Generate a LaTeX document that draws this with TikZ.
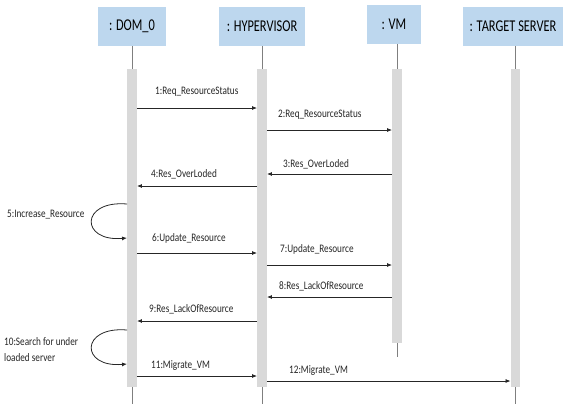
\documentclass[tikz,border=0pt]{standalone}
\usepackage{fontspec}
\setmainfont{Carlito}
\usetikzlibrary{arrows.meta}
\definecolor{hdrblue}{HTML}{BDD7EE}
\definecolor{bargray}{HTML}{D9D9D9}
\definecolor{lifegray}{HTML}{7F7F7F}
\definecolor{msgcol}{HTML}{262626}
\newcommand\hdrtxt[1]{\scalebox{0.75}[1]{\fontsize{16.5}{19}\selectfont #1}}
\newcommand\msgtxt[1]{\scalebox{0.8}[1]{\fontsize{11.5}{14}\selectfont #1}}
\begin{document}
\begin{tikzpicture}[x=1pt,y=-1pt,
  hdrbox/.style={fill=hdrblue,draw=none,inner sep=0pt,minimum height=39pt},
  barbox/.style={fill=bargray,draw=none,inner sep=0pt,minimum width=9.5pt},
  lifeline/.style={draw=lifegray,line width=0.8pt},
  msg/.style={draw=msgcol,line width=0.8pt,-{Latex[length=5pt,width=4pt]}},
  lbl/.style={inner sep=0pt,anchor=base west,text=msgcol}]
\useasboundingbox (0,0) rectangle (564,404);
% headers
\node[hdrbox,minimum width=68pt] (dom) at (132,26.5) {\hdrtxt{: DOM\_0}};
\node[hdrbox,minimum width=86pt] (hyp) at (262,26.5) {\hdrtxt{: HYPERVISOR}};
\node[hdrbox,minimum width=54pt] (vm) at (394,24.5) {\hdrtxt{: VM}};
\node[hdrbox,minimum width=100pt] (tgt) at (513,26.5) {\hdrtxt{: TARGET SERVER}};
% end points of lifelines
\coordinate (domend) at (132,404);
\coordinate (hypend) at (262,404);
\coordinate (vmend) at (397,357);
\coordinate (tgtend) at (515.5,404);
% lifelines
\draw[lifeline] (dom.south -| domend) -- (domend);
\draw[lifeline] (hyp.south -| hypend) -- (hypend);
\draw[lifeline] (vm.south -| vmend) -- (vmend);
\draw[lifeline] (tgt.south -| tgtend) -- (tgtend);
% activation bars
\node[barbox,minimum height=318pt] (domb) at (132,228) {};
\node[barbox,minimum height=318pt] (hypb) at (262,228) {};
\node[barbox,minimum height=274pt] (vmb) at (397,206) {};
\node[barbox,minimum height=318pt] (tgtb) at (515.5,228) {};
% messages
\draw[msg] (domb.east |- 0,108) -- (hypb.west |- 0,108);
\draw[msg] (hypb.east |- 0,130) -- (vmb.west |- 0,130);
\draw[msg] (vmb.west |- 0,174) -- (hypb.east |- 0,174);
\draw[msg] (hypb.west |- 0,186) -- (domb.east |- 0,186);
\draw[msg] (domb.west |- 0,204) .. controls (80,200) and (80,242) .. (domb.west |- 0,238);
\draw[msg] (domb.east |- 0,253) -- (hypb.west |- 0,253);
\draw[msg] (hypb.east |- 0,265) -- (vmb.west |- 0,265);
\draw[msg] (vmb.west |- 0,297) -- (hypb.east |- 0,297);
\draw[msg] (hypb.west |- 0,321) -- (domb.east |- 0,321);
\draw[msg] (domb.west |- 0,330) .. controls (80,326) and (80,368) .. (domb.west |- 0,364);
\draw[msg] (domb.east |- 0,376) -- (hypb.west |- 0,376);
\draw[msg] (hypb.east |- 0,381) -- (tgtb.west |- 0,381);
% labels
\node[lbl] (l1) at (155,94) {\msgtxt{1:Req\_ResourceStatus}};
\node[lbl] (l2) at (278,117) {\msgtxt{2:Req\_ResourceStatus}};
\node[lbl] (l3) at (283,167) {\msgtxt{3:Res\_OverLoded}};
\node[lbl] (l4) at (151,177) {\msgtxt{4:Res\_OverLoded}};
\node[lbl] (l5) at (7,217) {\msgtxt{5:Increase\_Resource}};
\node[lbl] (l6) at (152,241) {\msgtxt{6:Update\_Resource}};
\node[lbl] (l7) at (280,252) {\msgtxt{7:Update\_Resource}};
\node[lbl] (l8) at (279,289) {\msgtxt{8:Res\_LackOfResource}};
\node[lbl] (l9) at (149,312) {\msgtxt{9:Res\_LackOfResource}};
\node[lbl] (l10a) at (4,345) {\msgtxt{10:Search for under}};
\node[lbl] (l10b) at (4,361) {\msgtxt{loaded server}};
\node[lbl] (l11) at (151,368) {\msgtxt{11:Migrate\_VM}};
\node[lbl] (l12) at (289,373) {\msgtxt{12:Migrate\_VM}};
\end{tikzpicture}
\end{document}
